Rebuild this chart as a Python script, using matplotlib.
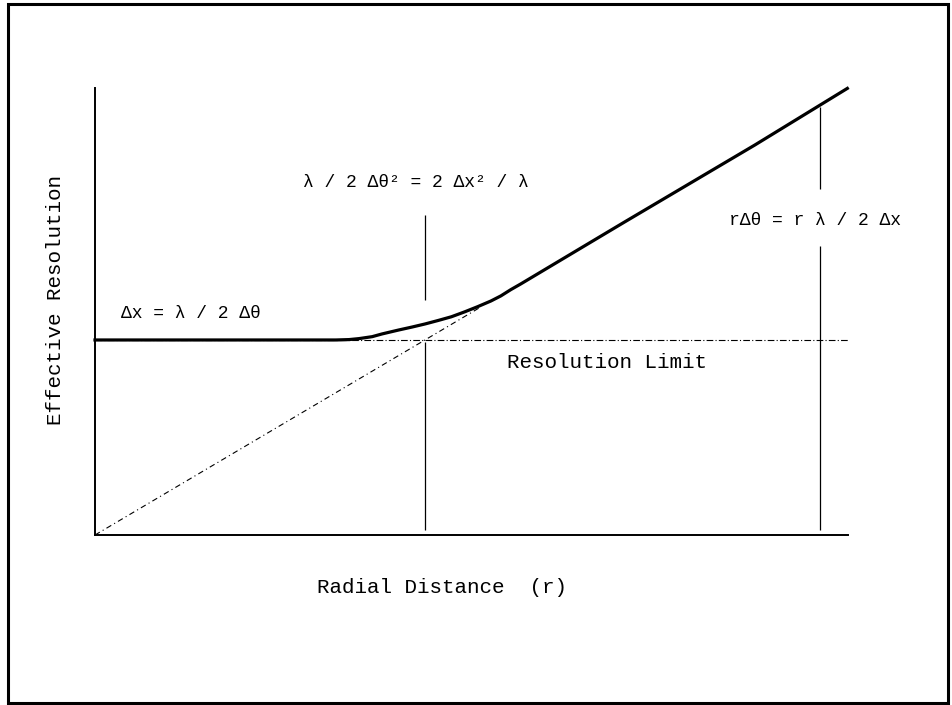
import matplotlib.pyplot as plt
from matplotlib.patches import Rectangle

# Radial distance in units of the crossover range, resolution in units of the limit
r_curve = [0.0, 0.73, 0.77, 0.80, 0.84, 0.87, 0.92, 0.96, 1.0, 1.04, 1.08, 1.12,
           1.16, 1.20, 1.23, 1.26, 1.29, 1.60, 2.00, 2.28]
res_curve = [1.0, 1.0, 1.002, 1.007, 1.017, 1.031, 1.051, 1.066, 1.082, 1.100, 1.119, 1.144,
             1.171, 1.200, 1.226, 1.258, 1.287, 1.60, 2.00, 2.29]

r_asym = [0.0, 1.17]
res_asym = [0.0, 1.17]

res_limit = 1.0
r_cross = 1.0
r_far = 2.197

fig = plt.figure(figsize=(9.52, 7.05), dpi=100)

# marco exterior
fig.patches.append(Rectangle((0.0084, 0.003), 0.9874, 0.9913, transform=fig.transFigure,
                             fill=False, edgecolor='black', linewidth=2.2))

ax = fig.add_axes([95 / 952, 170 / 705, 753 / 952, 447 / 705])
ax.set_xlim(0, 2.282)
ax.set_ylim(0, 2.292)
for side in ['top', 'right']:
    ax.spines[side].set_visible(False)
ax.spines['left'].set_linewidth(1.4)
ax.spines['bottom'].set_linewidth(1.4)
ax.set_xticks([])
ax.set_yticks([])

# limite de resolucion y asintota
ax.axhline(res_limit, color='black', linewidth=0.8, linestyle=(0, (6, 2, 1, 2)))
ax.plot(r_asym, res_asym, color='black', linewidth=0.8, linestyle=(0, (5, 3, 1, 3)))

# lineas verticales de referencia
ax.vlines([r_cross, r_cross], [1.205, 0.026], [1.641, 0.99], color='black', linewidth=0.9)
ax.vlines([r_far, r_far], [1.774, 0.026], [2.195, 1.482], color='black', linewidth=0.9)

# resolucion efectiva
ax.plot(r_curve, res_curve, color='black', linewidth=2.3, clip_on=False,
        solid_joinstyle='round')

mono = 'Liberation Mono'
ax.text(0.973, 1.805, 'λ / 2 Δθ² = 2 Δx² / λ', family=mono, fontsize=13,
        ha='center', va='center')
ax.text(0.079, 1.138, 'Δx = λ / 2 Δθ', family=mono, fontsize=13,
        ha='left', va='center')
ax.text(1.921, 1.615, 'rΔθ = r λ / 2 Δx', family=mono, fontsize=13,
        ha='left', va='center', clip_on=False)
ax.text(1.552, 0.887, 'Resolution Limit', family=mono, fontsize=15,
        ha='center', va='center')
ax.text(1.052, -0.267, 'Radial Distance  (r)', family=mono, fontsize=15,
        ha='center', va='center')
ax.text(-0.121, 1.205, 'Effective Resolution', family=mono, fontsize=15,
        ha='center', va='center', rotation=90)

plt.savefig('out.png', dpi=100)
plt.close()
